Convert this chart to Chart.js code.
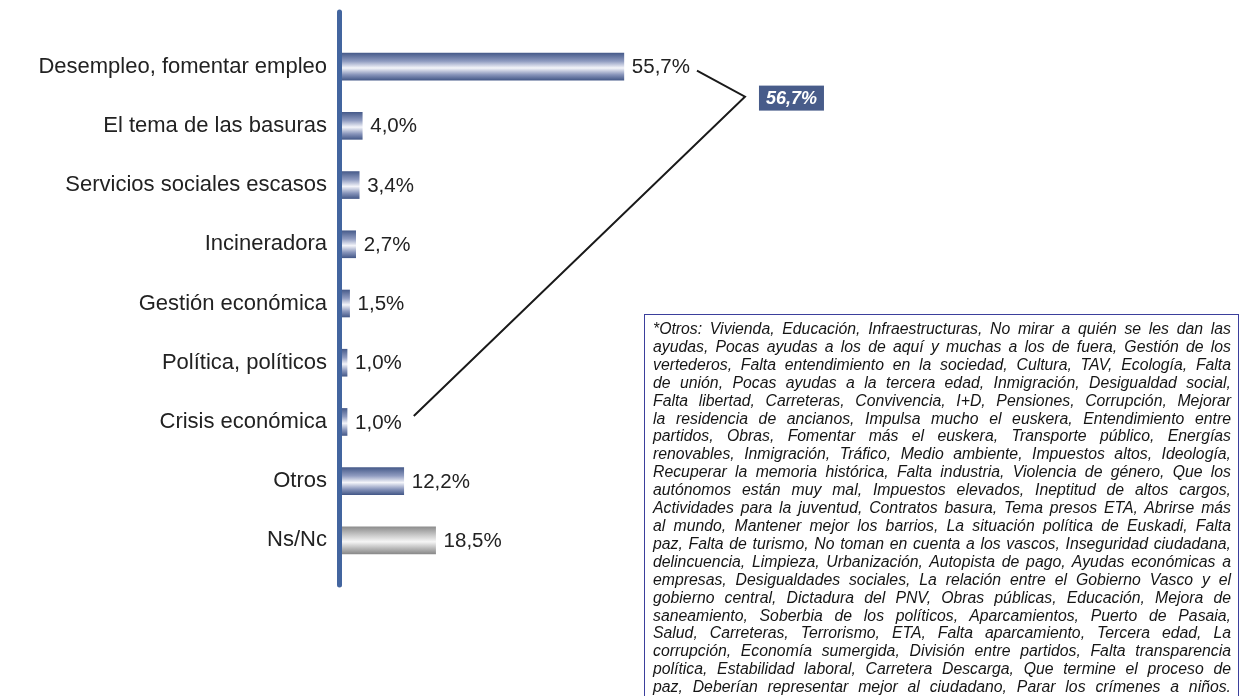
<!DOCTYPE html>
<html>
<head>
<meta charset="utf-8">
<script src="https://cdn.jsdelivr.net/npm/chart.js@4/dist/chart.umd.min.js"></script>
<style>
    body { margin: 0; background: #fff; overflow: hidden; }
    #wrap { position: relative; width: 1241px; height: 696px; }
    #note {
        position: absolute; left: 644px; top: 314px; width: 578px; height: 400px;
        border: 1px solid #3b3f9c; padding: 5px 7px 0 8px;
        font: italic 15.8px Arial, 'Liberation Sans', sans-serif; color: #151515;
        line-height: 17.9px;
    }
    #note div { white-space: nowrap; text-align: justify; text-align-last: justify; }
</style>
</head>
<body>
<div id="wrap">
    <canvas id="chart" width="1241" height="696"></canvas>
    <div id="note"></div>
</div>
<script>
// --- Data ---
const categories = [
    'Desempleo, fomentar empleo',
    'El tema de las basuras',
    'Servicios sociales escasos',
    'Incineradora',
    'Gestión económica',
    'Política, políticos',
    'Crisis económica',
    'Otros',
    'Ns/Nc'
];
const values = [55.7, 4.0, 3.4, 2.7, 1.5, 1.0, 1.0, 12.2, 18.5];
const neutralCategories = ['Ns/Nc'];
const calloutGroup = ['Desempleo, fomentar empleo', 'Crisis económica'];

const noteLines = [
    '*Otros: Vivienda, Educación, Infraestructuras, No mirar a quién se les dan las',
    'ayudas, Pocas ayudas a los de aquí y muchas a los de fuera, Gestión de los',
    'vertederos, Falta entendimiento en la sociedad, Cultura, TAV, Ecología, Falta',
    'de unión, Pocas ayudas a la tercera edad, Inmigración, Desigualdad social,',
    'Falta libertad, Carreteras, Convivencia, I+D, Pensiones, Corrupción, Mejorar',
    'la residencia de ancianos, Impulsa mucho el euskera, Entendimiento entre',
    'partidos, Obras, Fomentar más el euskera, Transporte público, Energías',
    'renovables, Inmigración, Tráfico, Medio ambiente, Impuestos altos, Ideología,',
    'Recuperar la memoria histórica, Falta industria, Violencia de género, Que los',
    'autónomos están muy mal, Impuestos elevados, Ineptitud de altos cargos,',
    'Actividades para la juventud, Contratos basura, Tema presos ETA, Abrirse más',
    'al mundo, Mantener mejor los barrios, La situación política de Euskadi, Falta',
    'paz, Falta de turismo, No toman en cuenta a los vascos, Inseguridad ciudadana,',
    'delincuencia, Limpieza, Urbanización, Autopista de pago, Ayudas económicas a',
    'empresas, Desigualdades sociales, La relación entre el Gobierno Vasco y el',
    'gobierno central, Dictadura del PNV, Obras públicas, Educación, Mejora de',
    'saneamiento, Soberbia de los políticos, Aparcamientos, Puerto de Pasaia,',
    'Salud, Carreteras, Terrorismo, ETA, Falta aparcamiento, Tercera edad, La',
    'corrupción, Economía sumergida, División entre partidos, Falta transparencia',
    'política, Estabilidad laboral, Carretera Descarga, Que termine el proceso de',
    'paz, Deberían representar mejor al ciudadano, Parar los crímenes a niños.'
];

const note = document.getElementById('note');
noteLines.forEach(line => {
    const d = document.createElement('div');
    d.textContent = line;
    note.appendChild(d);
});

const FONT = "Arial, 'Liberation Sans', sans-serif";
const BAR_H = 27;
const fmt = v => v.toFixed(1).replace('.', ',') + '%';

// bar gradient, top to bottom
function barGradient(ctx) {
    const chart = ctx.chart;
    const yScale = chart.scales.y;
    if (!yScale || ctx.dataIndex === undefined) return '#4b5f8e';
    const y = yScale.getPixelForValue(ctx.dataIndex);
    if (!isFinite(y)) return '#4b5f8e';
    const g = chart.ctx.createLinearGradient(0, y - BAR_H / 2, 0, y + BAR_H / 2);
    if (neutralCategories.includes(categories[ctx.dataIndex])) {
        g.addColorStop(0, '#8e8e8e');
        g.addColorStop(0.3, '#c8c8c8');
        g.addColorStop(0.55, '#f6f6f6');
        g.addColorStop(0.8, '#b8b8b8');
        g.addColorStop(1, '#8a8a8a');
    } else {
        g.addColorStop(0, '#485c8b');
        g.addColorStop(0.3, '#8f9bc0');
        g.addColorStop(0.55, '#f4f5fa');
        g.addColorStop(0.8, '#8794ba');
        g.addColorStop(1, '#465a89');
    }
    return g;
}

// --- Plugins ---
const axisLine = {
    id: 'axisLine',
    afterDatasetsDraw(chart) {
        const { ctx, chartArea } = chart;
        ctx.save();
        ctx.strokeStyle = '#43659f';
        ctx.lineWidth = 5;
        ctx.lineCap = 'round';
        ctx.beginPath();
        ctx.moveTo(chartArea.left - 2.5, chartArea.top - 25);
        ctx.lineTo(chartArea.left - 2.5, chartArea.bottom + 15);
        ctx.stroke();
        ctx.restore();
    }
};

const valueLabels = {
    id: 'valueLabels',
    afterDatasetsDraw(chart) {
        const { ctx } = chart;
        const meta = chart.getDatasetMeta(0);
        ctx.save();
        ctx.font = '20.5px ' + FONT;
        ctx.fillStyle = '#222';
        ctx.textBaseline = 'middle';
        ctx.textAlign = 'left';
        meta.data.forEach((bar, i) => {
            ctx.fillText(fmt(values[i]), bar.x + 8, bar.y + 1);
        });
        ctx.restore();
    }
};

const callout = {
    id: 'callout',
    afterDraw(chart) {
        const { ctx } = chart;
        const meta = chart.getDatasetMeta(0);
        const idx = calloutGroup.map(c => categories.indexOf(c));
        const total = idx.reduce((s, i) => s + values[i], 0);
        ctx.save();
        ctx.font = '20.5px ' + FONT;
        const ends = idx.map(i => {
            const bar = meta.data[i];
            return { x: bar.x + 8 + ctx.measureText(fmt(values[i])).width, y: bar.y };
        });
        const a = ends[0], b = ends[ends.length - 1];
        const vx = a.x + 55, vy = a.y + 30;
        ctx.strokeStyle = '#1a1a1a';
        ctx.lineWidth = 2;
        ctx.beginPath();
        ctx.moveTo(a.x + 7, a.y + 4);
        ctx.lineTo(vx, vy);
        ctx.lineTo(b.x + 12, b.y - 6);
        ctx.stroke();

        // box with the summed share
        const bx = vx + 14, by = vy - 11, bw = 65, bh = 25;
        ctx.fillStyle = '#485c8a';
        ctx.fillRect(bx, by, bw, bh);
        ctx.fillStyle = '#fff';
        ctx.font = 'italic bold 18px ' + FONT;
        ctx.textAlign = 'center';
        ctx.textBaseline = 'middle';
        ctx.fillText(fmt(total), bx + bw / 2, by + bh / 2 + 1);
        ctx.restore();
    }
};

// --- Chart ---
new Chart(document.getElementById('chart'), {
    type: 'bar',
    data: {
        labels: categories,
        datasets: [{
            data: values,
            backgroundColor: barGradient,
            borderWidth: 0,
            barThickness: BAR_H
        }]
    },
    options: {
        indexAxis: 'y',
        responsive: false,
        animation: false,
        layout: { padding: { left: 0, right: 393, top: 37, bottom: 126 } },
        scales: {
            x: { display: false, min: 0, max: 100 },
            y: {
                grid: { display: false, drawTicks: false },
                border: { display: false },
                ticks: { font: { family: FONT, size: 22 }, color: '#222', padding: 15 },
                afterFit(scale) { scale.width = 342; }
            }
        },
        plugins: {
            legend: { display: false },
            tooltip: { enabled: false }
        }
    },
    plugins: [axisLine, valueLabels, callout]
});
</script>
</body>
</html>
